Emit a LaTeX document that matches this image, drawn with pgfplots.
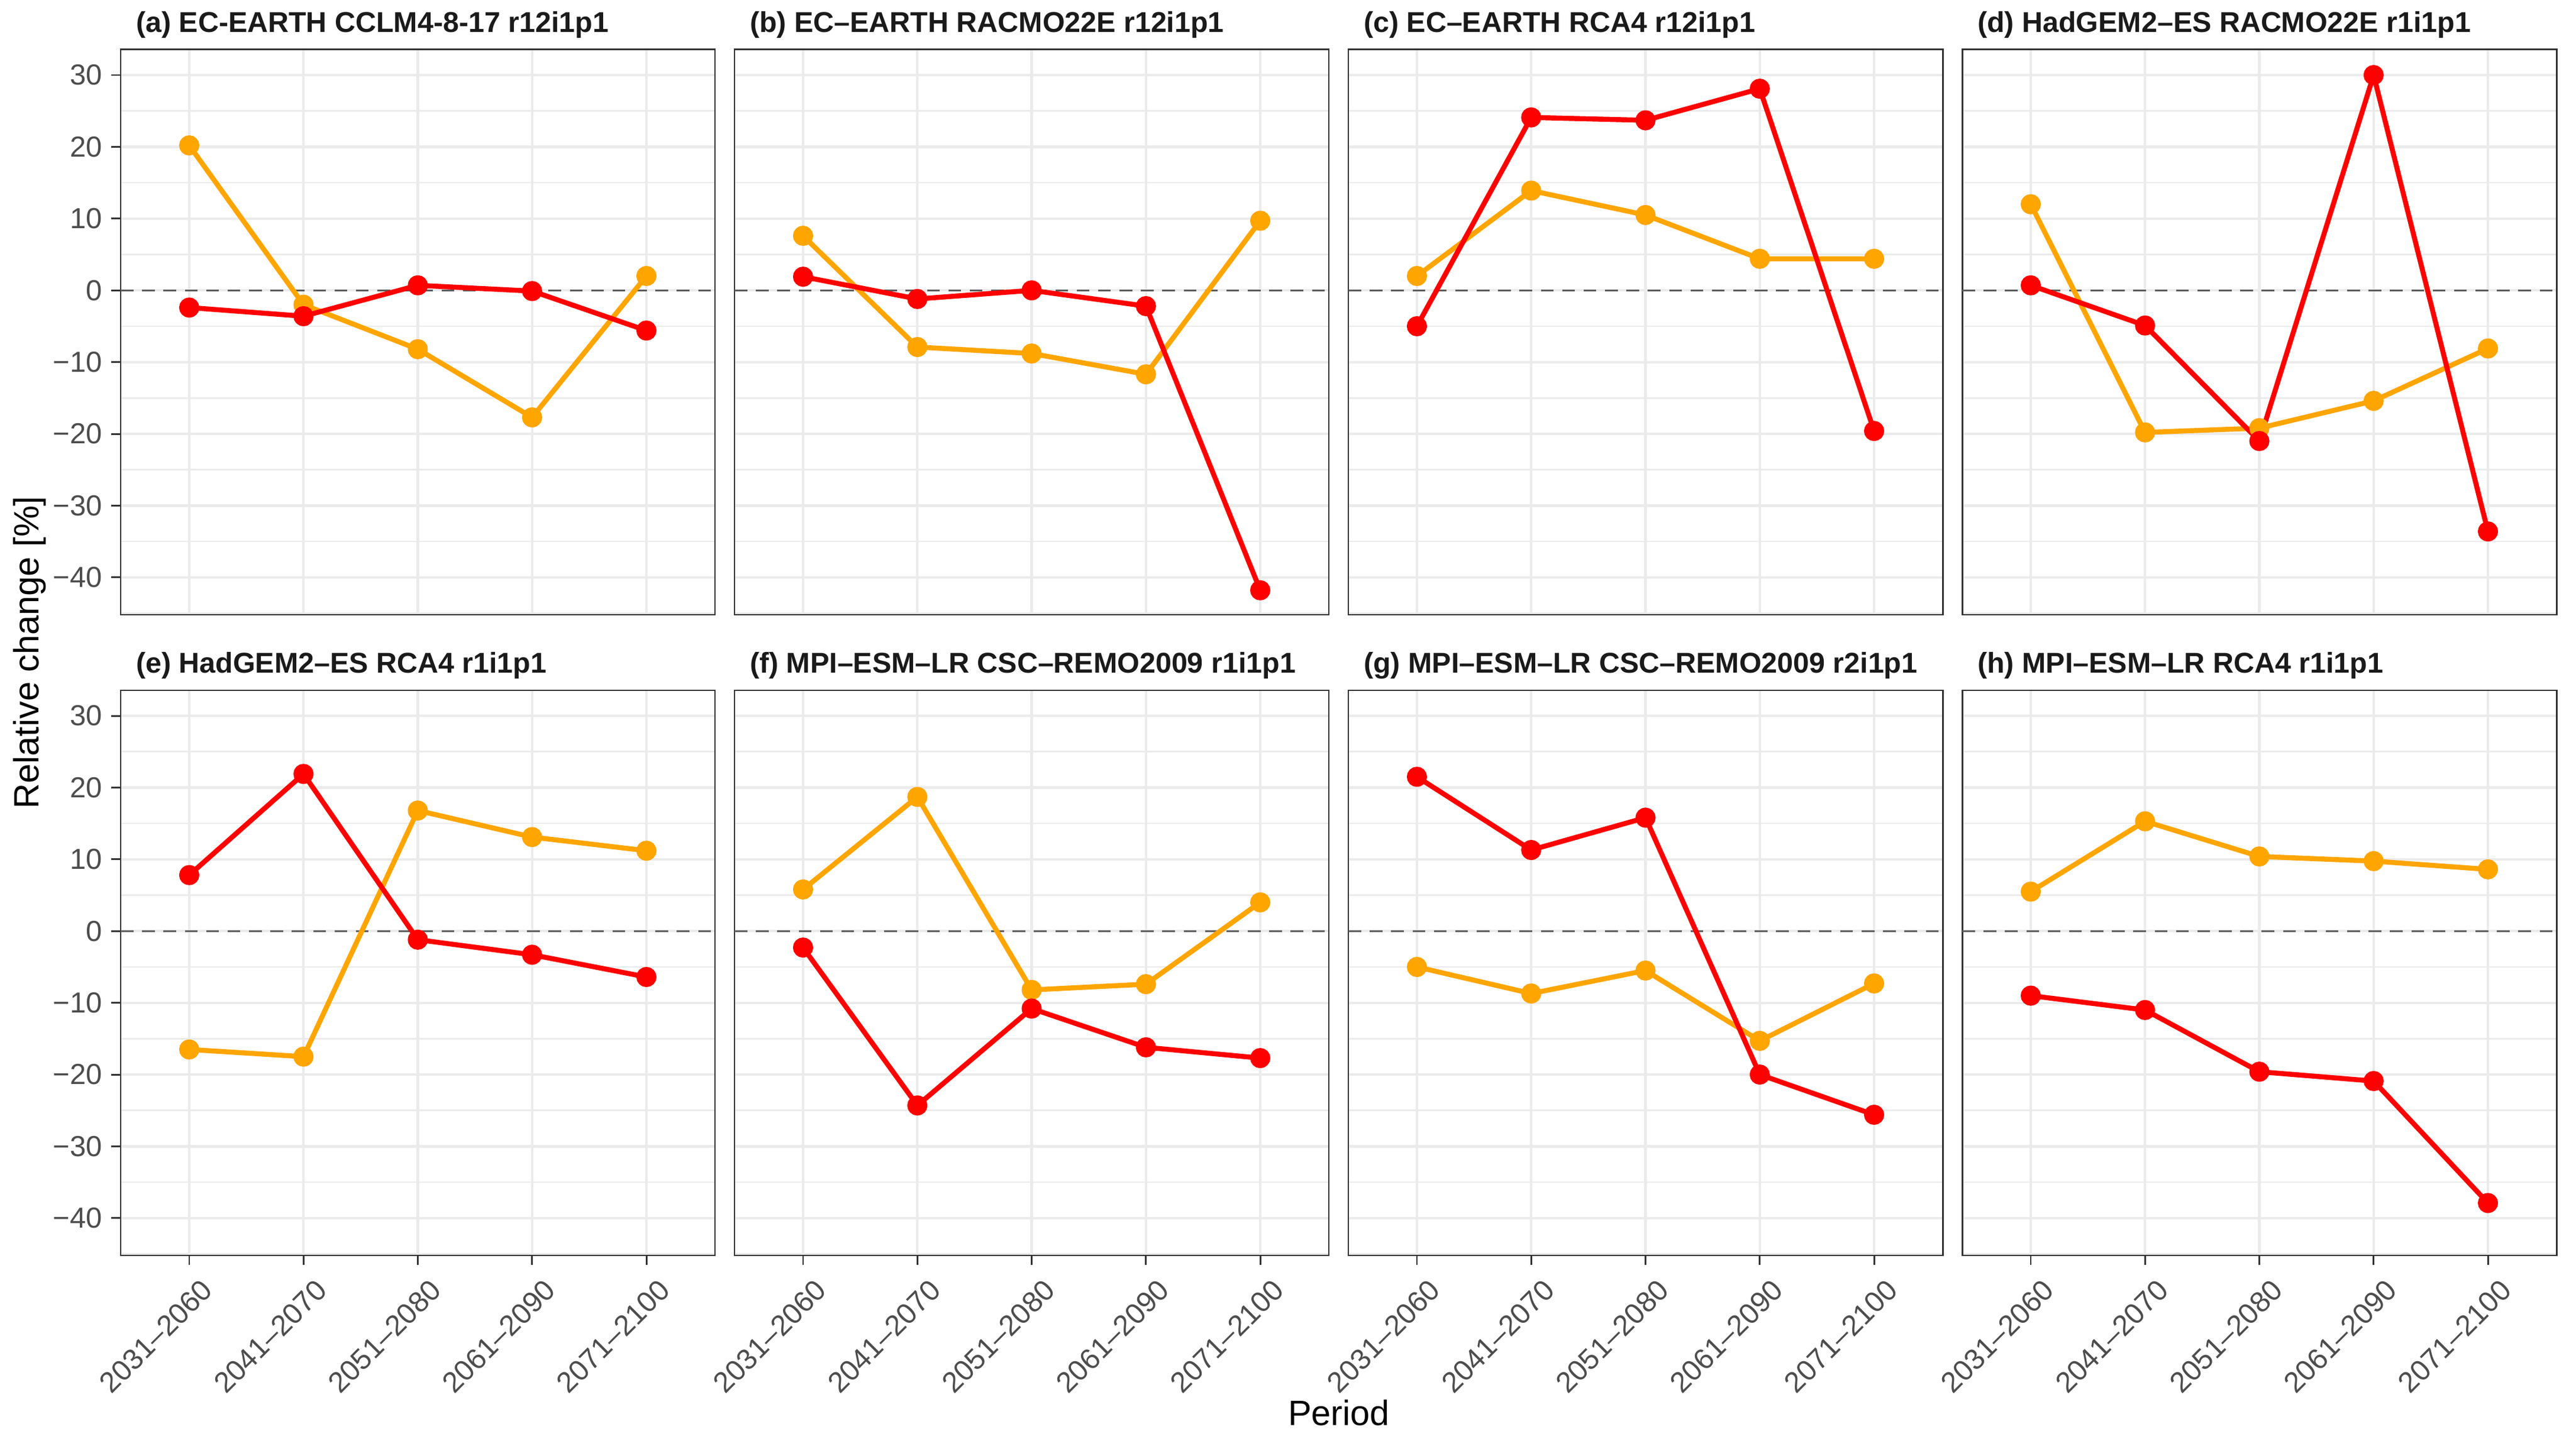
\documentclass[border=0pt]{standalone}
\usepackage{pgfplots}
\pgfplotsset{compat=1.18}
\usepackage{fontspec}
\setmainfont{Liberation Sans}

\definecolor{orangec}{HTML}{FFA500}
\definecolor{redc}{HTML}{FF0000}
\definecolor{gridc}{HTML}{EBEBEB}
\definecolor{framec}{HTML}{333333}
\definecolor{tickc}{HTML}{4D4D4D}
\definecolor{zeroc}{HTML}{5E5E5E}
\definecolor{stripc}{HTML}{1A1A1A}

\newcommand\ticfont{\fontsize{8.4}{10}\selectfont}
\newcommand\stripfont{\bfseries\fontsize{8.3}{10}\selectfont}
\newcommand\axfont{\fontsize{10.2}{12}\selectfont}

\pgfplotsset{
  panel/.style={
    scale only axis, width=172.286pt, height=163.886pt, anchor=south west,
    xmin=0.4, xmax=5.6, ymin=-45.2, ymax=33.55,
    xtick={1,2,3,4,5}, ytick={-40,-30,...,30}, minor ytick={-45,-35,...,25},
    grid=both,
    major grid style={draw=gridc, line width=0.72pt},
    minor grid style={draw=gridc, line width=0.45pt},
    axis line style={draw=framec, line width=0.5pt},
    tick align=outside, tick pos=left,
    major tick length=2.74pt, minor tick length=0pt,
    tick style={draw=framec, line width=0.5pt},
    every axis title/.style={at={(0,1)}, anchor=base west, xshift=4.29pt,
      yshift=5.06pt, inner sep=0pt, font=\stripfont, text=stripc},
  },
  toprow/.style={xticklabels={}, xtick style={/pgfplots/major tick length=0pt}},
  botrow/.style={
    xticklabels={2031–2060,2041–2070,2051–2080,2061–2090,2071–2100},
    xticklabel style={font=\ticfont, text=tickc, inner sep=0pt,
      shift={(3.1pt,-3.5pt)}, rotate=45, anchor=north east},
  },
  leftcol/.style={
    yticklabels={−40,−30,−20,−10,0,10,20,30},
    yticklabel style={font=\ticfont, text=tickc, inner sep=0pt, anchor=east, xshift=-2.4pt},
  },
  othercol/.style={yticklabels={}, ytick style={/pgfplots/major tick length=0pt}},
  zero/.style={draw=zeroc, line width=0.55pt, dash pattern=on 3.7pt off 2.5pt, forget plot},
  orng/.style={draw=orangec, line width=1.45pt, line join=round, mark=*, mark size=2.2pt,
    mark options={fill=orangec, draw=none, solid}},
  rd/.style={draw=redc, line width=1.45pt, line join=round, mark=*, mark size=2.2pt,
    mark options={fill=redc, draw=none, solid}},
}

\begin{document}
\begin{tikzpicture}
\useasboundingbox (0,0) rectangle (746.74pt,417.77pt);

% top row
\begin{axis}[panel, toprow, leftcol, at={(34.971pt,239.486pt)},
  title={(a) EC-EARTH CCLM4-8-17 r12i1p1}]
\addplot[zero] coordinates {(0.4,0) (5.6,0)};
\addplot[orng] coordinates {(1,20.2) (2,-2.0) (3,-8.2) (4,-17.7) (5,2.0)};
\addplot[rd] coordinates {(1,-2.4) (2,-3.6) (3,0.7) (4,-0.1) (5,-5.6)};
\end{axis}

\begin{axis}[panel, toprow, othercol, at={(212.914pt,239.486pt)},
  title={(b) EC–EARTH RACMO22E r12i1p1}]
\addplot[zero] coordinates {(0.4,0) (5.6,0)};
\addplot[orng] coordinates {(1,7.6) (2,-7.9) (3,-8.8) (4,-11.7) (5,9.7)};
\addplot[rd] coordinates {(1,1.9) (2,-1.2) (3,0.0) (4,-2.2) (5,-41.8)};
\end{axis}

\begin{axis}[panel, toprow, othercol, at={(390.857pt,239.486pt)},
  title={(c) EC–EARTH RCA4 r12i1p1}]
\addplot[zero] coordinates {(0.4,0) (5.6,0)};
\addplot[orng] coordinates {(1,2.0) (2,13.9) (3,10.5) (4,4.4) (5,4.4)};
\addplot[rd] coordinates {(1,-5.0) (2,24.1) (3,23.7) (4,28.1) (5,-19.6)};
\end{axis}

\begin{axis}[panel, toprow, othercol, at={(568.800pt,239.486pt)},
  title={(d) HadGEM2–ES RACMO22E r1i1p1}]
\addplot[zero] coordinates {(0.4,0) (5.6,0)};
\addplot[orng] coordinates {(1,12.0) (2,-19.8) (3,-19.2) (4,-15.4) (5,-8.1)};
\addplot[rd] coordinates {(1,0.7) (2,-4.9) (3,-21.0) (4,30.0) (5,-33.6)};
\end{axis}

% bottom row
\begin{axis}[panel, botrow, leftcol, at={(34.971pt,53.657pt)},
  title={(e) HadGEM2–ES RCA4 r1i1p1}]
\addplot[zero] coordinates {(0.4,0) (5.6,0)};
\addplot[orng] coordinates {(1,-16.5) (2,-17.5) (3,16.8) (4,13.1) (5,11.2)};
\addplot[rd] coordinates {(1,7.8) (2,21.9) (3,-1.2) (4,-3.3) (5,-6.4)};
\end{axis}

\begin{axis}[panel, botrow, othercol, at={(212.914pt,53.657pt)},
  title={(f) MPI–ESM–LR CSC–REMO2009 r1i1p1}]
\addplot[zero] coordinates {(0.4,0) (5.6,0)};
\addplot[orng] coordinates {(1,5.8) (2,18.7) (3,-8.2) (4,-7.4) (5,4.0)};
\addplot[rd] coordinates {(1,-2.3) (2,-24.3) (3,-10.8) (4,-16.2) (5,-17.7)};
\end{axis}

\begin{axis}[panel, botrow, othercol, at={(390.857pt,53.657pt)},
  title={(g) MPI–ESM–LR CSC–REMO2009 r2i1p1}]
\addplot[zero] coordinates {(0.4,0) (5.6,0)};
\addplot[orng] coordinates {(1,-5.0) (2,-8.7) (3,-5.5) (4,-15.3) (5,-7.3)};
\addplot[rd] coordinates {(1,21.5) (2,11.3) (3,15.8) (4,-20.0) (5,-25.6)};
\end{axis}

\begin{axis}[panel, botrow, othercol, at={(568.800pt,53.657pt)},
  title={(h) MPI–ESM–LR RCA4 r1i1p1}]
\addplot[zero] coordinates {(0.4,0) (5.6,0)};
\addplot[orng] coordinates {(1,5.5) (2,15.3) (3,10.4) (4,9.75) (5,8.6)};
\addplot[rd] coordinates {(1,-9.0) (2,-11.0) (3,-19.6) (4,-20.9) (5,-37.9)};
\end{axis}

\node[rotate=90, anchor=base, font=\axfont] at (11.31pt,228.51pt) {Relative change [\%]};
\node[anchor=base, font=\axfont] at (388.11pt,4.29pt) {Period};
\end{tikzpicture}
\end{document}
